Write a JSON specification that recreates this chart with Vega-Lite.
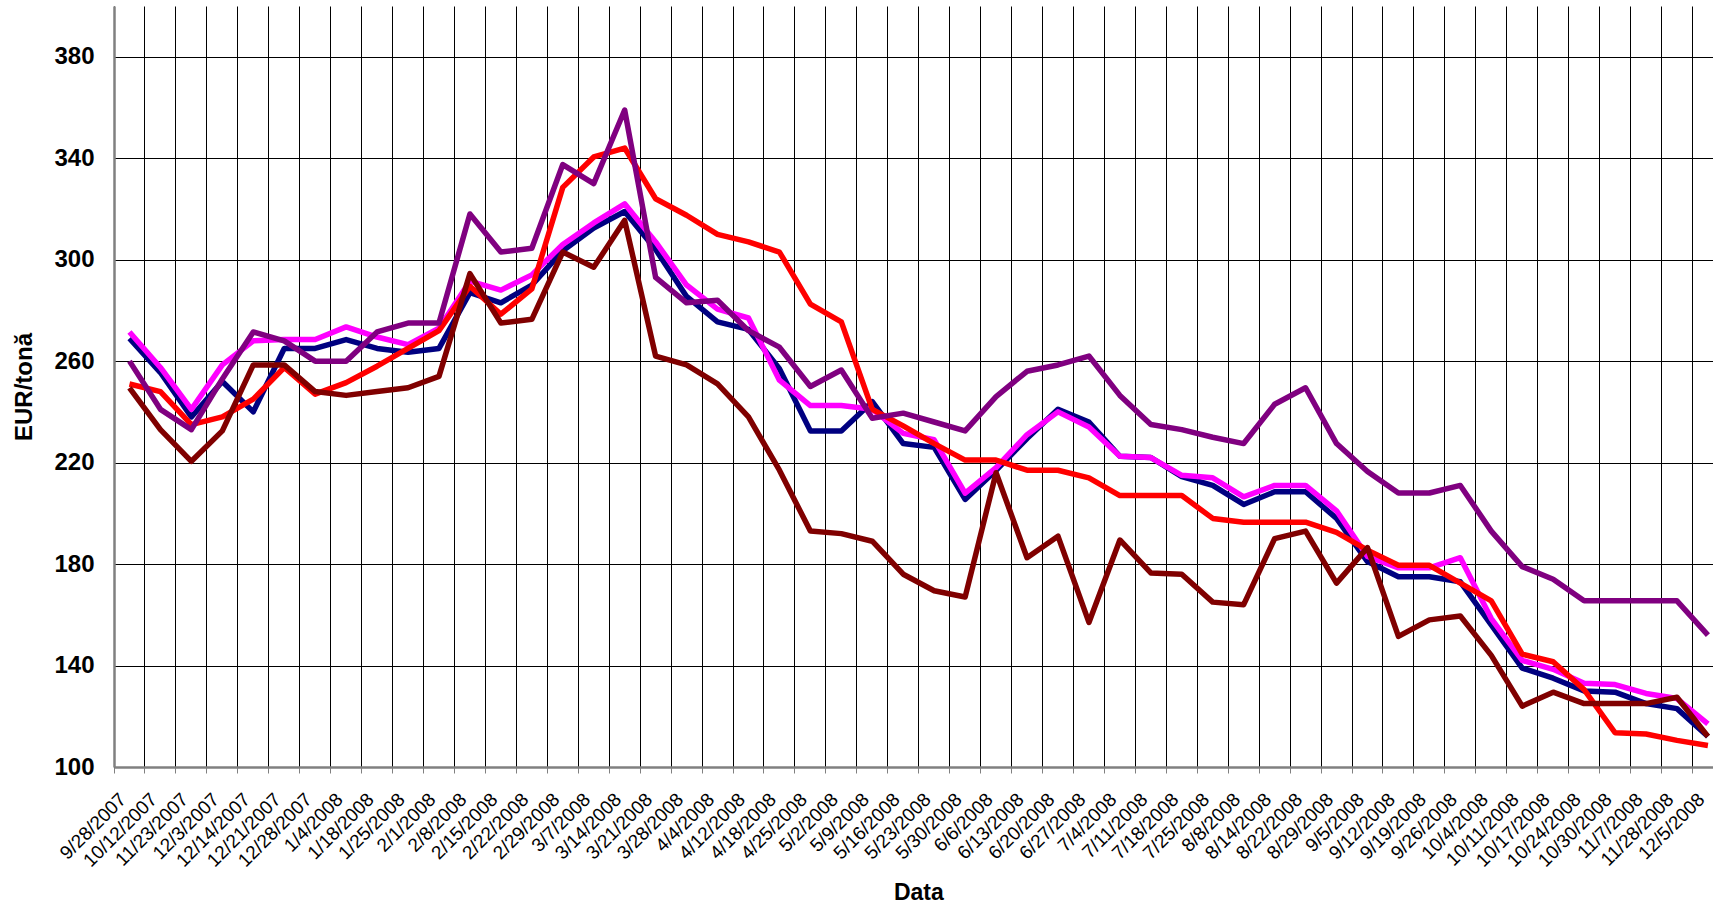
{
"$schema": "https://vega.github.io/schema/vega-lite/v6.json",
"autosize": {"type": "none"},
"padding": {"left": 114, "top": 6, "right": 0, "bottom": 138},
"width": 1599,
"height": 761,
"background": "white",
"view": {"stroke": null},
"config": {"font": "Liberation Sans"},
"data": {"values": [
{"d":"9/28/2007","s":"s1","v":269},{"d":"10/12/2007","s":"s1","v":255.5},{"d":"11/23/2007","s":"s1","v":238},{"d":"12/3/2007","s":"s1","v":252},{"d":"12/14/2007","s":"s1","v":240},{"d":"12/21/2007","s":"s1","v":265},{"d":"12/28/2007","s":"s1","v":265},{"d":"1/4/2008","s":"s1","v":268.5},{"d":"1/18/2008","s":"s1","v":265},{"d":"1/25/2008","s":"s1","v":263.5},{"d":"2/1/2008","s":"s1","v":265},{"d":"2/8/2008","s":"s1","v":287},{"d":"2/15/2008","s":"s1","v":283},{"d":"2/22/2008","s":"s1","v":290},{"d":"2/29/2008","s":"s1","v":303.5},{"d":"3/7/2008","s":"s1","v":312.5},{"d":"3/14/2008","s":"s1","v":319},{"d":"3/21/2008","s":"s1","v":304},{"d":"3/28/2008","s":"s1","v":285.5},{"d":"4/4/2008","s":"s1","v":275.5},{"d":"4/12/2008","s":"s1","v":272.5},{"d":"4/18/2008","s":"s1","v":257},{"d":"4/25/2008","s":"s1","v":232.5},{"d":"5/2/2008","s":"s1","v":232.5},{"d":"5/9/2008","s":"s1","v":244},{"d":"5/16/2008","s":"s1","v":227.5},{"d":"5/23/2008","s":"s1","v":226},{"d":"5/30/2008","s":"s1","v":205.5},{"d":"6/6/2008","s":"s1","v":217},{"d":"6/13/2008","s":"s1","v":229.5},{"d":"6/20/2008","s":"s1","v":241},{"d":"6/27/2008","s":"s1","v":236},{"d":"7/4/2008","s":"s1","v":222.5},{"d":"7/11/2008","s":"s1","v":222},{"d":"7/18/2008","s":"s1","v":214.5},{"d":"7/25/2008","s":"s1","v":211},{"d":"8/8/2008","s":"s1","v":203.5},{"d":"8/14/2008","s":"s1","v":208.5},{"d":"8/22/2008","s":"s1","v":208.5},{"d":"8/29/2008","s":"s1","v":198},{"d":"9/5/2008","s":"s1","v":181},{"d":"9/12/2008","s":"s1","v":175},{"d":"9/19/2008","s":"s1","v":175},{"d":"9/26/2008","s":"s1","v":173},{"d":"10/4/2008","s":"s1","v":156},{"d":"10/11/2008","s":"s1","v":139},{"d":"10/17/2008","s":"s1","v":135},{"d":"10/24/2008","s":"s1","v":130},{"d":"10/30/2008","s":"s1","v":129.5},{"d":"11/7/2008","s":"s1","v":125},{"d":"11/28/2008","s":"s1","v":123},{"d":"12/5/2008","s":"s1","v":112},
{"d":"9/28/2007","s":"s2","v":271.5},{"d":"10/12/2007","s":"s2","v":257.5},{"d":"11/23/2007","s":"s2","v":241},{"d":"12/3/2007","s":"s2","v":258.5},{"d":"12/14/2007","s":"s2","v":268},{"d":"12/21/2007","s":"s2","v":268.5},{"d":"12/28/2007","s":"s2","v":268.5},{"d":"1/4/2008","s":"s2","v":273.5},{"d":"1/18/2008","s":"s2","v":269.5},{"d":"1/25/2008","s":"s2","v":266.5},{"d":"2/1/2008","s":"s2","v":273},{"d":"2/8/2008","s":"s2","v":291.5},{"d":"2/15/2008","s":"s2","v":288},{"d":"2/22/2008","s":"s2","v":294},{"d":"2/29/2008","s":"s2","v":306},{"d":"3/7/2008","s":"s2","v":314.5},{"d":"3/14/2008","s":"s2","v":322},{"d":"3/21/2008","s":"s2","v":307},{"d":"3/28/2008","s":"s2","v":290},{"d":"4/4/2008","s":"s2","v":280.5},{"d":"4/12/2008","s":"s2","v":277},{"d":"4/18/2008","s":"s2","v":252.5},{"d":"4/25/2008","s":"s2","v":242.5},{"d":"5/2/2008","s":"s2","v":242.5},{"d":"5/9/2008","s":"s2","v":241},{"d":"5/16/2008","s":"s2","v":231.5},{"d":"5/23/2008","s":"s2","v":229},{"d":"5/30/2008","s":"s2","v":208},{"d":"6/6/2008","s":"s2","v":218},{"d":"6/13/2008","s":"s2","v":231},{"d":"6/20/2008","s":"s2","v":240},{"d":"6/27/2008","s":"s2","v":234},{"d":"7/4/2008","s":"s2","v":222.5},{"d":"7/11/2008","s":"s2","v":222},{"d":"7/18/2008","s":"s2","v":215},{"d":"7/25/2008","s":"s2","v":214},{"d":"8/8/2008","s":"s2","v":206.5},{"d":"8/14/2008","s":"s2","v":211},{"d":"8/22/2008","s":"s2","v":211},{"d":"8/29/2008","s":"s2","v":201},{"d":"9/5/2008","s":"s2","v":183},{"d":"9/12/2008","s":"s2","v":178.5},{"d":"9/19/2008","s":"s2","v":178.5},{"d":"9/26/2008","s":"s2","v":182.5},{"d":"10/4/2008","s":"s2","v":158.5},{"d":"10/11/2008","s":"s2","v":142},{"d":"10/17/2008","s":"s2","v":138.5},{"d":"10/24/2008","s":"s2","v":133},{"d":"10/30/2008","s":"s2","v":132.5},{"d":"11/7/2008","s":"s2","v":129},{"d":"11/28/2008","s":"s2","v":127},{"d":"12/5/2008","s":"s2","v":117},
{"d":"9/28/2007","s":"s3","v":251},{"d":"10/12/2007","s":"s3","v":248},{"d":"11/23/2007","s":"s3","v":235},{"d":"12/3/2007","s":"s3","v":238},{"d":"12/14/2007","s":"s3","v":245},{"d":"12/21/2007","s":"s3","v":257.5},{"d":"12/28/2007","s":"s3","v":247},{"d":"1/4/2008","s":"s3","v":251.5},{"d":"1/18/2008","s":"s3","v":258},{"d":"1/25/2008","s":"s3","v":265},{"d":"2/1/2008","s":"s3","v":272},{"d":"2/8/2008","s":"s3","v":289.5},{"d":"2/15/2008","s":"s3","v":278.5},{"d":"2/22/2008","s":"s3","v":288.5},{"d":"2/29/2008","s":"s3","v":328.5},{"d":"3/7/2008","s":"s3","v":340.5},{"d":"3/14/2008","s":"s3","v":344},{"d":"3/21/2008","s":"s3","v":324},{"d":"3/28/2008","s":"s3","v":317.5},{"d":"4/4/2008","s":"s3","v":310},{"d":"4/12/2008","s":"s3","v":307},{"d":"4/18/2008","s":"s3","v":303},{"d":"4/25/2008","s":"s3","v":282.5},{"d":"5/2/2008","s":"s3","v":275.5},{"d":"5/9/2008","s":"s3","v":241},{"d":"5/16/2008","s":"s3","v":234.5},{"d":"5/23/2008","s":"s3","v":227.5},{"d":"5/30/2008","s":"s3","v":221},{"d":"6/6/2008","s":"s3","v":221},{"d":"6/13/2008","s":"s3","v":217},{"d":"6/20/2008","s":"s3","v":217},{"d":"6/27/2008","s":"s3","v":214},{"d":"7/4/2008","s":"s3","v":207},{"d":"7/11/2008","s":"s3","v":207},{"d":"7/18/2008","s":"s3","v":207},{"d":"7/25/2008","s":"s3","v":198},{"d":"8/8/2008","s":"s3","v":196.5},{"d":"8/14/2008","s":"s3","v":196.5},{"d":"8/22/2008","s":"s3","v":196.5},{"d":"8/29/2008","s":"s3","v":192.5},{"d":"9/5/2008","s":"s3","v":185.5},{"d":"9/12/2008","s":"s3","v":179.5},{"d":"9/19/2008","s":"s3","v":179.5},{"d":"9/26/2008","s":"s3","v":172.5},{"d":"10/4/2008","s":"s3","v":165.5},{"d":"10/11/2008","s":"s3","v":144.5},{"d":"10/17/2008","s":"s3","v":141.5},{"d":"10/24/2008","s":"s3","v":130.5},{"d":"10/30/2008","s":"s3","v":113.5},{"d":"11/7/2008","s":"s3","v":113},{"d":"11/28/2008","s":"s3","v":110.5},{"d":"12/5/2008","s":"s3","v":108.5},
{"d":"9/28/2007","s":"s4","v":260},{"d":"10/12/2007","s":"s4","v":241},{"d":"11/23/2007","s":"s4","v":233},{"d":"12/3/2007","s":"s4","v":253},{"d":"12/14/2007","s":"s4","v":271.5},{"d":"12/21/2007","s":"s4","v":268},{"d":"12/28/2007","s":"s4","v":260},{"d":"1/4/2008","s":"s4","v":260},{"d":"1/18/2008","s":"s4","v":271.5},{"d":"1/25/2008","s":"s4","v":275},{"d":"2/1/2008","s":"s4","v":275},{"d":"2/8/2008","s":"s4","v":318},{"d":"2/15/2008","s":"s4","v":303},{"d":"2/22/2008","s":"s4","v":304.5},{"d":"2/29/2008","s":"s4","v":337.5},{"d":"3/7/2008","s":"s4","v":330},{"d":"3/14/2008","s":"s4","v":359},{"d":"3/21/2008","s":"s4","v":293},{"d":"3/28/2008","s":"s4","v":283},{"d":"4/4/2008","s":"s4","v":284},{"d":"4/12/2008","s":"s4","v":272},{"d":"4/18/2008","s":"s4","v":265.5},{"d":"4/25/2008","s":"s4","v":250},{"d":"5/2/2008","s":"s4","v":256.5},{"d":"5/9/2008","s":"s4","v":237.5},{"d":"5/16/2008","s":"s4","v":239.5},{"d":"5/23/2008","s":"s4","v":236},{"d":"5/30/2008","s":"s4","v":232.5},{"d":"6/6/2008","s":"s4","v":246},{"d":"6/13/2008","s":"s4","v":256},{"d":"6/20/2008","s":"s4","v":258.5},{"d":"6/27/2008","s":"s4","v":262},{"d":"7/4/2008","s":"s4","v":246.5},{"d":"7/11/2008","s":"s4","v":235},{"d":"7/18/2008","s":"s4","v":233},{"d":"7/25/2008","s":"s4","v":230},{"d":"8/8/2008","s":"s4","v":227.5},{"d":"8/14/2008","s":"s4","v":243},{"d":"8/22/2008","s":"s4","v":249.5},{"d":"8/29/2008","s":"s4","v":227.5},{"d":"9/5/2008","s":"s4","v":216.5},{"d":"9/12/2008","s":"s4","v":208},{"d":"9/19/2008","s":"s4","v":208},{"d":"9/26/2008","s":"s4","v":211},{"d":"10/4/2008","s":"s4","v":193},{"d":"10/11/2008","s":"s4","v":179},{"d":"10/17/2008","s":"s4","v":174},{"d":"10/24/2008","s":"s4","v":165.5},{"d":"10/30/2008","s":"s4","v":165.5},{"d":"11/7/2008","s":"s4","v":165.5},{"d":"11/28/2008","s":"s4","v":165.5},{"d":"12/5/2008","s":"s4","v":152},
{"d":"9/28/2007","s":"s5","v":249.5},{"d":"10/12/2007","s":"s5","v":233},{"d":"11/23/2007","s":"s5","v":220.5},{"d":"12/3/2007","s":"s5","v":232.5},{"d":"12/14/2007","s":"s5","v":258.5},{"d":"12/21/2007","s":"s5","v":258.5},{"d":"12/28/2007","s":"s5","v":248},{"d":"1/4/2008","s":"s5","v":246.5},{"d":"1/18/2008","s":"s5","v":248},{"d":"1/25/2008","s":"s5","v":249.5},{"d":"2/1/2008","s":"s5","v":254},{"d":"2/8/2008","s":"s5","v":294.5},{"d":"2/15/2008","s":"s5","v":275},{"d":"2/22/2008","s":"s5","v":276.5},{"d":"2/29/2008","s":"s5","v":303},{"d":"3/7/2008","s":"s5","v":297},{"d":"3/14/2008","s":"s5","v":315.5},{"d":"3/21/2008","s":"s5","v":262},{"d":"3/28/2008","s":"s5","v":258.5},{"d":"4/4/2008","s":"s5","v":251},{"d":"4/12/2008","s":"s5","v":238},{"d":"4/18/2008","s":"s5","v":217},{"d":"4/25/2008","s":"s5","v":193},{"d":"5/2/2008","s":"s5","v":192},{"d":"5/9/2008","s":"s5","v":189},{"d":"5/16/2008","s":"s5","v":176},{"d":"5/23/2008","s":"s5","v":169.5},{"d":"5/30/2008","s":"s5","v":167},{"d":"6/6/2008","s":"s5","v":216},{"d":"6/13/2008","s":"s5","v":182.5},{"d":"6/20/2008","s":"s5","v":191},{"d":"6/27/2008","s":"s5","v":157},{"d":"7/4/2008","s":"s5","v":189.5},{"d":"7/11/2008","s":"s5","v":176.5},{"d":"7/18/2008","s":"s5","v":176},{"d":"7/25/2008","s":"s5","v":165},{"d":"8/8/2008","s":"s5","v":164},{"d":"8/14/2008","s":"s5","v":190},{"d":"8/22/2008","s":"s5","v":193},{"d":"8/29/2008","s":"s5","v":172.5},{"d":"9/5/2008","s":"s5","v":186.5},{"d":"9/12/2008","s":"s5","v":151.5},{"d":"9/19/2008","s":"s5","v":158},{"d":"9/26/2008","s":"s5","v":159.5},{"d":"10/4/2008","s":"s5","v":144},{"d":"10/11/2008","s":"s5","v":124},{"d":"10/17/2008","s":"s5","v":129.5},{"d":"10/24/2008","s":"s5","v":125},{"d":"10/30/2008","s":"s5","v":125},{"d":"11/7/2008","s":"s5","v":125},{"d":"11/28/2008","s":"s5","v":127.5},{"d":"12/5/2008","s":"s5","v":112}
]},
"mark": {"type": "line", "strokeWidth": 5.5, "strokeJoin": "round"},
"encoding": {
"x": {"field": "d", "type": "nominal", "sort": null,
 "scale": {"type": "band", "range": [0, 1609.4], "paddingInner": 0, "paddingOuter": 0},
 "axis": {"title": "Data", "bandPosition": 0, "labelAngle": -45, "labelAlign": "right", "labelBaseline": "middle",
  "labelFontSize": 19, "labelFont": "Liberation Sans", "labelColor": "#000000", "labelPadding": 23, "labelOffset": -6.4,
  "labelOverlap": false, "labelLimit": 0, "tickSize": 6, "tickColor": "#808080", "tickWidth": 1,
  "domainColor": "#808080", "domainWidth": 2.5, "grid": true, "gridColor": "#000000", "gridWidth": 1, "gridOpacity": 1,
  "titleFont": "Liberation Sans", "titleFontSize": 23, "titleFontWeight": "bold", "titleColor": "#000000",
  "titleX": 804.3, "titleY": 132, "titleBaseline": "alphabetic", "titleAlign": "center"}},
"y": {"field": "v", "type": "quantitative",
 "scale": {"domain": [100, 400], "nice": false, "zero": false},
 "axis": {"values": [100, 140, 180, 220, 260, 300, 340, 380], "title": "EUR/tonă",
  "labelFont": "Liberation Sans", "labelFontSize": 24, "labelFontWeight": "bold", "labelColor": "#000000", "labelPadding": 20,
  "tickSize": 0, "domainColor": "#808080", "domainWidth": 2.5, "grid": true, "gridColor": "#000000", "gridWidth": 1, "gridOpacity": 1,
  "titleFont": "Liberation Sans", "titleFontSize": 24, "titleFontWeight": "bold", "titleColor": "#000000",
  "titleX": -83, "titleY": 380.5, "titleAngle": -90, "titleBaseline": "alphabetic", "titleAlign": "center"}},
"color": {"field": "s", "type": "nominal", "legend": null,
 "scale": {"domain": ["s1", "s2", "s3", "s4", "s5"], "range": ["#000080", "#FF00FF", "#FF0000", "#800080", "#800000"]}}
}
}
